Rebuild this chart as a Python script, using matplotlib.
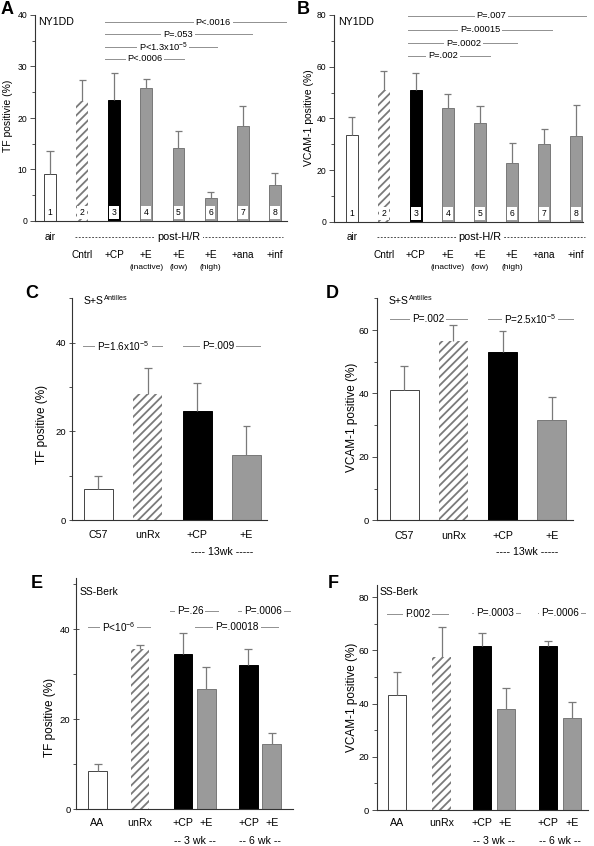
import matplotlib
matplotlib.use('Agg')
import matplotlib.pyplot as plt
from matplotlib.transforms import Affine2D, blended_transform_factory
import numpy as np

plt.rcParams['font.family'] = ['Liberation Sans', 'DejaVu Sans']
plt.rcParams['mathtext.fontset'] = 'custom'
plt.rcParams['mathtext.rm'] = 'Liberation Sans'
plt.rcParams['mathtext.it'] = 'Liberation Sans:italic'
plt.rcParams['mathtext.bf'] = 'Liberation Sans:bold'
plt.rcParams['mathtext.default'] = 'regular'
plt.rcParams['hatch.linewidth'] = 1.3

# ---------------- DATA ----------------
# Panel A (TF, NY1DD)
a_labels = ["air", "Cntrl", "+CP", "+E", "+E", "+E", "+ana", "+inf"]
a_sub = ["", "", "", "(inactive)", "(low)", "(high)", "", ""]
a_nums = ["1", "2", "3", "4", "5", "6", "7", "8"]
a_vals = [9.2, 23.3, 23.5, 25.9, 14.2, 4.5, 18.4, 7.0]
a_errtop = [13.6, 27.4, 28.7, 27.5, 17.4, 5.7, 22.4, 9.3]
a_p = ["P<.0016", "P=.053", "P<1.3x10$^{-5}$", "P<.0006"]

# Panel B (VCAM-1, NY1DD)
b_labels = a_labels
b_sub = a_sub
b_vals = [33.6, 50.8, 50.8, 43.9, 38.1, 22.9, 30.0, 33.2]
b_errtop = [40.5, 58.4, 57.5, 49.4, 44.6, 30.6, 35.8, 45.1]
b_p = ["P=.007", "P=.00015", "P=.0002", "P=.002"]

# Panel C (TF, S+S Antilles)
c_labels = ["C57", "unRx", "+CP", "+E"]
c_vals = [7.0, 28.4, 24.6, 14.7]
c_errtop = [9.9, 34.2, 30.9, 21.3]
c_p = ["P=1.6x10$^{-5}$", "P=.009"]

# Panel D (VCAM-1, S+S Antilles)
d_labels = ["C57", "unRx", "+CP", "+E"]
d_vals = [41.1, 56.5, 53.0, 31.7]
d_errtop = [48.7, 61.5, 59.7, 38.9]
d_p = ["P=.002", "P=2.5x10$^{-5}$"]

# Panel E (TF, SS-Berk)
e_labels = ["AA", "unRx", "+CP", "+E", "+CP", "+E"]
e_vals = [8.6, 35.6, 34.4, 26.7, 32.1, 14.4]
e_errtop = [10.0, 36.5, 39.2, 31.6, 35.6, 16.9]
e_p = ["P<10$^{-6}$", "P=.26", "P=.0006", "P=.00018"]

# Panel F (VCAM-1, SS-Berk)
f_labels = ["AA", "unRx", "+CP", "+E", "+CP", "+E"]
f_vals = [43.2, 57.4, 61.7, 37.9, 61.8, 34.7]
f_errtop = [51.8, 68.7, 66.7, 46.0, 63.5, 40.5]
f_p = ["P.002", "P=.0003", "P=.0006"]

# ---------------- STYLE / LAYOUT ----------------
W, H = 594, 846
fig = plt.figure(figsize=(W / 100, H / 100), dpi=100)
T_px = Affine2D().scale(1.0 / W, -1.0 / H).translate(0, 1) + fig.transFigure

EC = '#444444'
GRAY = '#9a9a9a'
ERR = '#7a7a7a'
PLINE = '#909090'


def px_axes(left, top, right, bottom):
    return fig.add_axes([left / W, 1 - bottom / H, (right - left) / W, (bottom - top) / H])


def setup(ax, xlim, ylim, major, minor, tsize, tdir='out'):
    ax.set_xlim(xlim)
    ax.set_ylim(ylim)
    for s in ['top', 'right']:
        ax.spines[s].set_visible(False)
    for s in ['left', 'bottom']:
        ax.spines[s].set_linewidth(0.8)
        ax.spines[s].set_color('#333333')
    ax.set_yticks(major)
    ax.set_yticks(minor, minor=True)
    ax.set_xticks([])
    ax.tick_params(axis='y', which='major', direction=tdir, length=4 if tdir == 'inout' else 3.5,
                   width=0.6, labelsize=tsize, pad=2, color='#333333')
    ax.tick_params(axis='y', which='minor', direction='out', length=2.5, width=0.6, color='#333333')
    ax.patch.set_alpha(0)


def draw_bars(ax, x, vals, errtop, styles, width, capw):
    for xi, v, s in zip(x, vals, styles):
        if s == 'white':
            ax.bar(xi, v, width, color='white', edgecolor=EC, linewidth=0.7)
        elif s == 'hatch':
            ax.bar(xi, v, width, color='white', edgecolor='#7a7a7a', hatch='////', linewidth=0)
        elif s == 'black':
            ax.bar(xi, v, width, color='black', edgecolor='black', linewidth=0.7)
        else:
            ax.bar(xi, v, width, color=GRAY, edgecolor='#6a6a6a', linewidth=0.6)
    x = np.asarray(x, float)
    ax.vlines(x, vals, errtop, color=ERR, lw=0.9, zorder=3)
    ax.hlines(errtop, x - capw / 2, x + capw / 2, color=ERR, lw=0.9, zorder=3)


def p_annot(ax, labels, specs, fs):
    for lab, (y, x1, x2, xt) in zip(labels, specs):
        ax.plot([x1, x2], [y, y], color=PLINE, lw=0.7, clip_on=False, zorder=4)
        ax.text(xt, y, lab, ha='center', va='center', fontsize=fs, clip_on=False, zorder=5,
                bbox=dict(boxstyle='square,pad=0.2', fc='white', ec='none'))


def ftext(x, y, s, **kw):
    fig.text(x, y, s, transform=T_px, **kw)


# ---------------- PANEL A ----------------
styles8 = ['white', 'hatch', 'black', 'gray', 'gray', 'gray', 'gray', 'gray']
xa = np.arange(1, 9)
axA = px_axes(35, 15, 287, 221)
setup(axA, (0.533, 8.38), (0, 40), [0, 10, 20, 30, 40], [5, 15, 25, 35], 6.2)
draw_bars(axA, xa, a_vals, a_errtop, styles8, 0.37, 0.22)


def number_boxes(ax, x, nums, width, ymax):
    ax.bar(x, ymax * 0.063, width * 0.82, bottom=ymax * 0.01, color='white', edgecolor='none', zorder=2)
    for xi, n in zip(x, nums):
        ax.text(xi, ymax * 0.041, n, ha='center', va='center', fontsize=6.2, zorder=3)


number_boxes(axA, xa, a_nums, 0.37, 40)
p_annot(axA, a_p, [(38.6, 2.71, 8.35, 6.08), (36.3, 2.71, 7.29, 4.99),
                   (33.8, 2.71, 6.20, 4.52), (31.5, 2.71, 5.17, 3.96)], 6.7)


def nyd_labels(ax, x, labels, subs):
    tr = blended_transform_factory(ax.transData, T_px)
    ax.text(x[0], 236.7, labels[0], transform=tr, ha='center', va='center', fontsize=7.2)
    for xi, lab, sub in zip(x[1:], labels[1:], subs[1:]):
        ax.text(xi, 255, lab, transform=tr, ha='center', va='center', fontsize=7.2)
        if sub:
            ax.text(xi, 267.7, sub, transform=tr, ha='center', va='center', fontsize=6)
    ax.plot([1.78, 8.27], [236.7, 236.7], transform=tr, color='#333333', lw=0.6,
            ls=(0, (2.2, 1.8)), clip_on=False)
    ax.text(5.0, 236.7, "post-H/R", transform=tr, ha='center', va='center', fontsize=7.8,
            bbox=dict(boxstyle='square,pad=0.25', fc='white', ec='none'))


nyd_labels(axA, xa, a_labels, a_sub)
ftext(1, 9, "A", fontsize=13, fontweight='bold', ha='left', va='center')
ftext(37.7, 22.3, "NY1DD", fontsize=7.7, ha='left', va='center')
ftext(8, 116, "TF positivie (%)", fontsize=7.5, rotation=90, ha='center', va='center')

# ---------------- PANEL B ----------------
axB = px_axes(334.3, 15, 583, 221.7)
setup(axB, (0.458, 8.21), (0, 80), [0, 20, 40, 60, 80], [10, 30, 50, 70], 6.2)
draw_bars(axB, xa, b_vals, b_errtop, styles8, 0.37, 0.22)
number_boxes(axB, xa, a_nums, 0.37, 80)
p_annot(axB, b_p, [(79.8, 2.76, 8.29, 5.36), (74.3, 2.76, 7.23, 5.0),
                   (69.1, 2.76, 6.14, 4.48), (64.3, 2.76, 5.31, 3.85)], 6.7)
nyd_labels(axB, xa, b_labels, b_sub)
ftext(297, 9, "B", fontsize=13, fontweight='bold', ha='left', va='center')
ftext(338.3, 22.3, "NY1DD", fontsize=7.7, ha='left', va='center')
ftext(309, 118, "VCAM-1 positive (%)", fontsize=7.5, rotation=90, ha='center', va='center')

# ---------------- PANEL C ----------------
styles4 = ['white', 'hatch', 'black', 'gray']
xc = np.arange(1, 5)
axC = px_axes(71.7, 298.3, 266.7, 520.3)
setup(axC, (0.46, 4.41), (0, 50), [0, 20, 40], [10, 30, 50], 6.8, 'inout')
draw_bars(axC, xc, c_vals, c_errtop, styles4, 0.59, 0.16)
p_annot(axC, c_p, [(39.2, 0.69, 2.29, 1.51), (39.2, 2.72, 4.27, 3.43)], 7.2)


def four_labels(ax, x, labels, y1, y2):
    tr = blended_transform_factory(ax.transData, T_px)
    for xi, lab in zip(x, labels):
        ax.text(xi, y1, lab, transform=tr, ha='center', va='center', fontsize=7.7)
    ax.text(3.5, y2, "---- 13wk -----", transform=tr, ha='center', va='center', fontsize=7.7)


four_labels(axC, xc, c_labels, 535, 551.7)
ftext(25, 293, "C", fontsize=13, fontweight='bold', ha='left', va='center')
ftext(83.3, 300, r"S+S$^{\mathrm{Antilles}}$", fontsize=7.5, ha='left', va='center')
ftext(41.7, 424.5, "TF positive (%)", fontsize=8.5, rotation=90, ha='center', va='center')

# ---------------- PANEL D ----------------
axD = px_axes(376.7, 298.3, 573.3, 520.3)
setup(axD, (0.44, 4.44), (0, 70), [0, 20, 40, 60], [10, 30, 50, 70], 6.8)
draw_bars(axD, xc, d_vals, d_errtop, styles4, 0.59, 0.16)
p_annot(axD, d_p, [(63.4, 0.71, 2.27, 1.49), (63.4, 2.71, 4.44, 3.56)], 7.2)
four_labels(axD, xc, d_labels, 535.7, 551.7)
ftext(326, 293, "D", fontsize=13, fontweight='bold', ha='left', va='center')
ftext(388.3, 300, r"S+S$^{\mathrm{Antilles}}$", fontsize=7.5, ha='left', va='center')
ftext(351.7, 417, "VCAM-1 positive (%)", fontsize=8.5, rotation=90, ha='center', va='center')

# ---------------- PANEL E ----------------
styles6 = ['white', 'hatch', 'black', 'gray', 'black', 'gray']
xe = [1, 2, 3.02, 3.57, 4.56, 5.11]
axE = px_axes(76, 578.3, 293.3, 809.3)
setup(axE, (0.49, 5.62), (0, 51.3), [0, 20, 40], [10, 30, 50], 6.8, 'inout')
draw_bars(axE, xe, e_vals, e_errtop, styles6, 0.44, 0.19)
p_annot(axE, e_p, [(40.4, 0.78, 2.24, 1.49), (44.1, 2.71, 3.85, 3.18),
                   (44.1, 4.32, 5.55, 4.91), (40.4, 3.30, 5.27, 4.29)], 7.2)


def six_labels(ax, x, labels, y1, y2):
    tr = blended_transform_factory(ax.transData, T_px)
    for xi, lab in zip(x, labels):
        ax.text(xi, y1, lab, transform=tr, ha='center', va='center', fontsize=7.7)
    ax.text((x[2] + x[3]) / 2, y2, "-- 3 wk --", transform=tr, ha='center', va='center', fontsize=7.7)
    ax.text((x[4] + x[5]) / 2, y2, "-- 6 wk --", transform=tr, ha='center', va='center', fontsize=7.7)


six_labels(axE, xe, e_labels, 823.3, 840.5)
ftext(31, 583, "E", fontsize=13, fontweight='bold', ha='left', va='center')
ftext(79.3, 591.7, "SS-Berk", fontsize=7.5, ha='left', va='center')
ftext(50, 717, "TF positive (%)", fontsize=8.5, rotation=90, ha='center', va='center')

# ---------------- PANEL F ----------------
xf = [1, 2, 2.91, 3.44, 4.40, 4.93]
axF = px_axes(376.7, 585, 588.3, 810)
setup(axF, (0.54, 5.30), (0, 84.6), [0, 20, 40, 60, 80], [10, 30, 50, 70], 6.8)
draw_bars(axF, xf, f_vals, f_errtop, styles6, 0.41, 0.18)
p_annot(axF, f_p, [(73.6, 0.78, 2.15, 1.46), (74.2, 2.68, 3.76, 3.20),
                   (74.2, 4.16, 5.23, 4.66)], 7.2)
six_labels(axF, xf, f_labels, 823.3, 840.5)
ftext(328, 583, "F", fontsize=13, fontweight='bold', ha='left', va='center')
ftext(380, 591.7, "SS-Berk", fontsize=7.5, ha='left', va='center')
ftext(351.7, 697.5, "VCAM-1 positive (%)", fontsize=8.5, rotation=90, ha='center', va='center')

fig.savefig('out.png', dpi=100, facecolor='white')
